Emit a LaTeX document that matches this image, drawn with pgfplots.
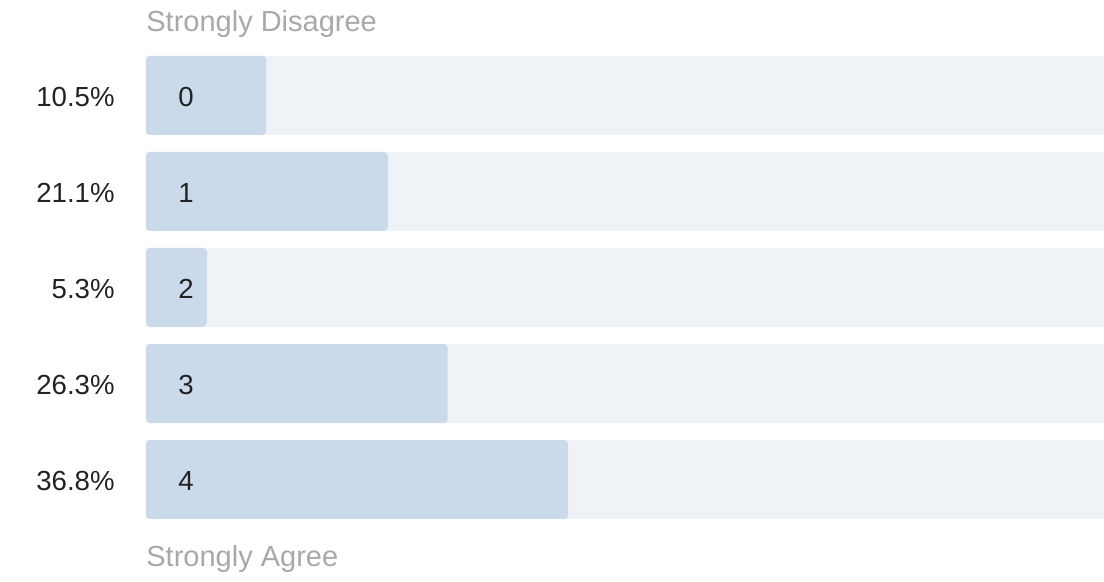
\documentclass[border=0pt]{standalone}
\usepackage{fontspec}
\setmainfont{Liberation Sans}
\usepackage{pgfplots}
\pgfplotsset{compat=1.18}

\definecolor{barfill}{HTML}{CBDAEA}
\definecolor{track}{HTML}{EFF3F8}
\definecolor{txt}{HTML}{222222}
\definecolor{soft}{HTML}{A8A8A8}

\begin{document}
\begin{tikzpicture}
  \begin{axis}[
      scale only axis, width=479pt, height=231.5pt,
      xmin=0, xmax=83.52,
      ymin=-0.411, ymax=4.411, y dir=reverse,
      axis line style={draw=none}, major tick length=0,
      xtick=\empty,
      ytick={0,1,2,3,4},
      yticklabels={10.5\%,21.1\%,5.3\%,26.3\%,36.8\%},
      yticklabel style={inner sep=0pt, xshift=-15.5pt, yshift=-0.8pt, text=txt,
        font=\fontsize{13.8}{16}\selectfont},
      bar width=0.823, clip=true]
    % background tracks
    \addplot[xbar, bar shift=0pt, fill=track, draw=none] coordinates {
      (83.52,0) (83.52,1) (83.52,2) (83.52,3) (83.52,4)};
    % answer shares
    \addplot[xbar, bar shift=0pt, fill=barfill, draw=none, rounded corners=2pt] coordinates {
      (10.5,0) (21.1,1) (5.3,2) (26.3,3) (36.8,4)};
    % scale values inside bars
    \addplot[draw=none, mark=none, point meta=explicit symbolic,
      nodes near coords={\pgfplotspointmeta},
      every node near coord/.append style={anchor=center, yshift=-0.8pt, text=txt,
        font=\fontsize{13.8}{16}\selectfont}] coordinates {
      (3.49,0) [0] (3.49,1) [1] (3.49,2) [2] (3.49,3) [3] (3.49,4) [4]};
  \end{axis}
  \node[anchor=west, inner sep=0pt, text=soft, font=\fontsize{14.5}{17}\selectfont]
    at ([yshift=16pt]current axis.north west) {Strongly Disagree};
  \node[anchor=west, inner sep=0pt, text=soft, font=\fontsize{14.5}{17}\selectfont]
    at ([yshift=-20pt]current axis.south west) {Strongly Agree};
  \pgfresetboundingbox
  \path[use as bounding box] (-73pt,-31.5pt) rectangle (479pt,259.5pt);
\end{tikzpicture}
\end{document}
